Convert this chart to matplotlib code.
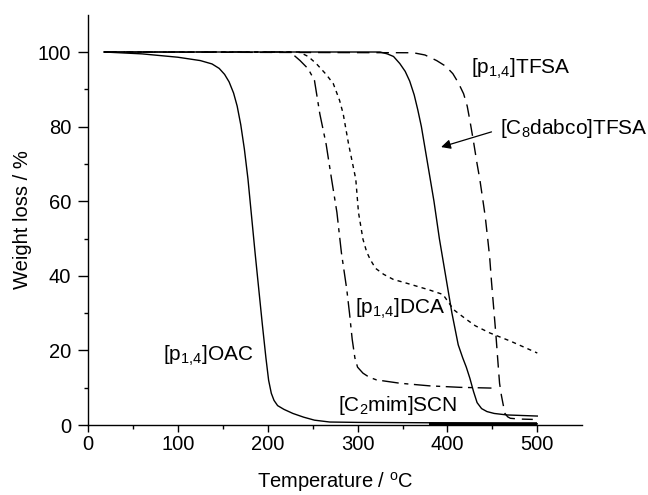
import matplotlib
matplotlib.use("Agg")
import matplotlib.pyplot as plt
import numpy as np

plt.rcParams['font.family'] = ['Liberation Sans', 'DejaVu Sans']
plt.rcParams['mathtext.fontset'] = 'custom'
plt.rcParams['mathtext.rm'] = 'Liberation Sans'
plt.rcParams['mathtext.it'] = 'Liberation Sans:italic'

# [p1,4]OAC (solid)
oac_x = [18, 60, 100, 125, 138, 146, 152, 157, 162, 166, 170, 174, 178, 182, 186, 190, 194, 198, 201, 204, 207, 211, 218, 228, 240, 252, 269, 300, 380, 500]
oac_y = [100, 99.5, 98.6, 97.7, 96.8, 95.6, 94, 92, 89, 85.5, 80.5, 74, 66, 56, 46, 36.5, 27, 18, 12, 8.5, 6.6, 5.2, 4.2, 3.1, 2.1, 1.3, 0.8, 0.7, 0.6, 0.3]
# bold baseline segment near zero
base_x = [380, 500]
base_y = [0.25, 0.25]

# dash-dot curve levelling at ~10 %
a_x = [18, 225, 236, 245, 252, 258, 265, 271, 277, 282, 288, 291, 294, 297, 300, 306, 313, 321, 347, 380, 414, 449]
a_y = [100, 100, 97.7, 95.5, 92.4, 83.4, 75.3, 66, 57, 46.2, 36.3, 30, 23, 18, 15.5, 13.9, 12.8, 12.1, 11.2, 10.5, 10.1, 9.9]

# dotted curve ([p1,4]DCA)
b_x = [18, 235, 245, 254, 265, 273, 280, 284, 290, 298, 301, 306, 310, 314, 320, 329, 340, 352, 366, 380, 395, 407, 420, 431, 447, 470, 500]
b_y = [100, 100, 98.8, 96.9, 94, 91.5, 87, 83.4, 75.3, 65.9, 57, 49.8, 46.5, 44.4, 42, 40.4, 39, 38.2, 37.2, 36.2, 35, 30.9, 28.5, 26.6, 24.7, 22.5, 19.3]

# [C8dabco]TFSA (solid)
c_x = [18, 325, 333, 340, 347, 353, 358, 363, 367, 371, 378, 385, 391, 398, 405, 412, 417, 421, 425, 429, 433, 438, 444, 452, 466, 500]
c_y = [100, 100, 99.5, 98.8, 96.9, 94.8, 92.2, 88.5, 84.5, 80, 70, 60, 50, 40, 30, 21.5, 18, 15.5, 12.5, 9, 6, 4.4, 3.6, 3.1, 2.7, 2.4]

# [p1,4]TFSA (long dash)
d_x = [18, 362, 375, 388, 398, 406, 412, 418, 422, 425, 429, 433, 436, 439, 442, 445, 447, 449, 451, 454, 456, 458, 460, 462, 464, 467, 470, 480, 495]
d_y = [100, 99.8, 99.2, 97.7, 96.2, 94.2, 91.8, 88.8, 85.5, 81.6, 76, 70, 65.9, 61, 56, 49.5, 45, 38.5, 32.7, 24, 17.5, 11.2, 8, 5.5, 3.1, 2.2, 1.8, 1.6, 1.5]

xticks = [0, 100, 200, 300, 400, 500]
yticks = [0, 20, 40, 60, 80, 100]

fig = plt.figure(figsize=(6.48, 4.95), dpi=100)
ax = fig.add_axes([0.1358, 0.1414, 0.7627, 0.8289])

kw = dict(color='black', lw=1.0, clip_on=False)
ax.plot(oac_x, oac_y, '-', **kw)
ax.plot(base_x, base_y, '-', color='black', lw=2.6, clip_on=False, solid_capstyle='butt')
ax.plot(a_x, a_y, dashes=(12, 4, 3, 4), **kw)
ax.plot(b_x, b_y, dashes=(3, 3), **kw)
ax.plot(c_x, c_y, '-', **kw)
ax.plot(d_x, d_y, dashes=(9, 5), **kw)

ax.set_xlim(0, 550)
ax.set_ylim(0, 110)
ax.set_xticks(xticks)
ax.set_yticks(yticks)
ax.set_xticks(np.arange(50, 550, 100), minor=True)
ax.set_yticks(np.arange(10, 110, 20), minor=True)
ax.tick_params(which='major', direction='out', length=5, width=1, labelsize=14.5)
ax.tick_params(axis='x', which='major', pad=2)
ax.tick_params(axis='y', which='major', length=7, pad=5)
ax.tick_params(which='minor', direction='out', length=3, width=1)
for s in ['top', 'right']:
    ax.spines[s].set_visible(False)
for s in ['left', 'bottom']:
    ax.spines[s].set_linewidth(1.0)

ax.set_xlabel(r'Temperature / $^{\mathregular{o}}$C', fontsize=14.5, labelpad=12)
ax.set_ylabel('Weight loss / %', fontsize=14.5, labelpad=4)

tfs = 15
ax.text(426, 95.4, r'[p$_{\mathregular{1{,}4}}$]TFSA', fontsize=tfs, va='center', ha='left')
ax.text(458, 79.5, r'[C$_{\mathregular{8}}$dabco]TFSA', fontsize=tfs, va='center', ha='left', clip_on=False)
ax.text(297, 31, r'[p$_{\mathregular{1{,}4}}$]DCA', fontsize=tfs, va='center', ha='left')
ax.text(83, 18.5, r'[p$_{\mathregular{1{,}4}}$]OAC', fontsize=tfs, va='center', ha='left')
ax.text(278, 5.3, r'[C$_{\mathregular{2}}$mim]SCN', fontsize=tfs, va='center', ha='left')
ax.annotate('', xy=(390, 74.3), xytext=(452, 78.8),
            arrowprops=dict(arrowstyle='-|>', color='black', lw=0.9, mutation_scale=14))

fig.savefig('out.png', dpi=100)
